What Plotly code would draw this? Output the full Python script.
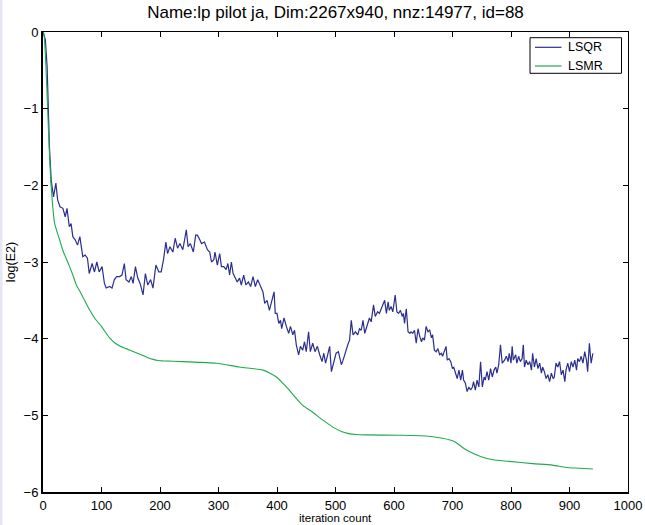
import plotly.graph_objects as go

title_text = "Name:lp pilot ja, Dim:2267x940, nnz:14977, id=88"
x_label = "iteration count"
y_label = "log(E2)"
series_names = ["LSQR", "LSMR"]
x_ticks = [0, 100, 200, 300, 400, 500, 600, 700, 800, 900, 1000]
y_ticks = [-6, -5, -4, -3, -2, -1, 0]

lsqr_iter = [0, 4, 7, 9, 11, 14, 18, 22, 25, 29, 34, 38, 41, 45, 48, 51, 55, 59, 63, 68,
             72, 76, 79, 84, 88, 92, 96, 101, 105, 108, 114, 118, 122, 126, 131, 135, 139, 142, 147, 151,
             154, 158, 162, 166, 171, 175, 179, 184, 188, 193, 198, 202, 206, 210, 213, 217, 222, 226, 230, 234,
             239, 245, 248, 252, 257, 261, 264, 268, 271, 276, 281, 285, 288, 292, 294, 298, 302, 305, 309, 313,
             316, 319, 322, 325, 329, 332, 336, 339, 343, 347, 351, 355, 359, 363, 367, 372, 376, 379, 383, 387,
             391, 395, 397, 400, 403, 406, 408, 412, 416, 420, 423, 427, 430, 433, 437, 440, 444, 447, 450, 454,
             457, 461, 465, 469, 473, 477, 480, 483, 486, 490, 493, 497, 501, 505, 510, 513, 517, 521, 524, 527,
             530, 534, 538, 541, 544, 547, 550, 553, 555, 558, 561, 565, 568, 572, 575, 578, 581, 584, 587, 590,
             592, 595, 598, 602, 605, 608, 611, 614, 616, 618, 621, 624, 627, 629, 632, 635, 638, 641, 644, 647,
             649, 652, 655, 658, 661, 664, 666, 669, 672, 675, 678, 681, 683, 686, 689, 691, 694, 697, 700, 702,
             705, 708, 711, 714, 717, 719, 722, 725, 728, 731, 734, 736, 739, 742, 745, 748, 751, 754, 756, 759,
             762, 765, 768, 771, 774, 776, 779, 782, 785, 789, 792, 795, 797, 800, 802, 804, 808, 810, 813, 816,
             819, 821, 823, 826, 829, 832, 835, 837, 840, 843, 846, 849, 852, 854, 857, 860, 863, 866, 869, 872,
             874, 877, 880, 883, 886, 889, 892, 894, 897, 900, 903, 906, 909, 912, 914, 917, 920, 923, 926, 929,
             931, 934, 937, 940]
lsqr_val = [0.0, -0.10, -0.45, -1.00, -1.50, -1.93, -2.15, -1.97, -2.19, -2.28, -2.30, -2.41, -2.30, -2.54, -2.50, -2.67, -2.71, -2.78, -2.67, -2.93,
            -2.91, -2.95, -3.15, -3.02, -3.13, -3.00, -3.13, -3.06, -3.28, -3.34, -3.32, -3.34, -3.23, -3.19, -3.19, -3.17, -3.02, -3.23, -3.26, -3.19,
            -3.28, -3.06, -3.21, -3.28, -3.43, -3.15, -3.30, -3.23, -3.34, -3.04, -3.13, -3.13, -2.97, -2.74, -2.89, -2.80, -2.87, -2.69, -2.82, -2.76,
            -2.84, -2.58, -2.80, -2.76, -2.87, -2.65, -2.65, -2.71, -2.76, -2.74, -2.84, -2.87, -3.00, -2.97, -2.87, -3.04, -2.89, -3.06, -3.06, -3.10,
            -3.02, -3.17, -3.00, -3.15, -3.21, -3.26, -3.21, -3.30, -3.17, -3.30, -3.26, -3.32, -3.19, -3.32, -3.23, -3.32, -3.39, -3.54, -3.50, -3.63,
            -3.52, -3.39, -3.67, -3.67, -3.80, -3.76, -3.87, -3.73, -3.84, -3.93, -3.84, -3.95, -3.89, -4.08, -4.21, -4.10, -4.15, -4.04, -4.17, -3.91,
            -4.17, -4.06, -4.17, -4.10, -4.21, -4.30, -4.19, -4.32, -4.23, -4.10, -4.43, -4.30, -4.19, -4.17, -4.34, -4.28, -4.17, -4.08, -4.02, -3.76,
            -3.95, -3.91, -3.95, -3.87, -3.89, -3.76, -3.93, -3.84, -3.80, -3.73, -3.78, -3.56, -3.71, -3.65, -3.67, -3.61, -3.54, -3.50, -3.67, -3.52,
            -3.63, -3.58, -3.65, -3.43, -3.65, -3.67, -3.63, -3.71, -3.67, -3.80, -3.61, -3.91, -3.93, -3.91, -3.93, -3.89, -4.06, -3.87, -3.97, -4.04,
            -3.99, -4.02, -3.84, -3.91, -3.89, -3.99, -3.95, -4.15, -4.17, -4.13, -4.21, -4.19, -4.23, -4.15, -4.10, -4.28, -4.26, -4.30, -4.39, -4.37,
            -4.45, -4.52, -4.41, -4.54, -4.41, -4.54, -4.58, -4.69, -4.63, -4.67, -4.63, -4.56, -4.67, -4.54, -4.63, -4.30, -4.63, -4.50, -4.54, -4.43,
            -4.54, -4.39, -4.50, -4.41, -4.37, -4.45, -4.34, -4.08, -4.32, -4.28, -4.23, -4.30, -4.19, -4.32, -4.10, -4.28, -4.21, -4.32, -4.23, -4.30,
            -4.26, -4.08, -4.37, -4.28, -4.34, -4.30, -4.41, -4.19, -4.37, -4.26, -4.39, -4.32, -4.45, -4.37, -4.43, -4.52, -4.47, -4.56, -4.45, -4.52,
            -4.50, -4.32, -4.37, -4.30, -4.47, -4.41, -4.56, -4.41, -4.32, -4.43, -4.30, -4.37, -4.28, -4.41, -4.26, -4.30, -4.23, -4.32, -4.17, -4.28,
            -4.43, -4.06, -4.32, -4.19]

lsmr_iter = [0, 1, 5, 8, 11, 14, 20, 28, 34, 45, 51, 57, 65, 80, 90, 100, 108, 115, 122, 132, 142,
             155, 168, 178, 188, 197, 205, 239, 296, 336, 376, 388, 399, 416, 433, 444, 461, 478, 497, 510, 521, 535, 552, 609, 655, 683,
             703, 723, 749, 769, 797, 837, 871, 894, 917, 940]
lsmr_val = [0.0, 0.0, -0.45, -1.02, -1.58, -2.02, -2.50, -2.70, -2.85, -3.05, -3.17, -3.30, -3.41, -3.63, -3.75, -3.84, -3.93, -4.00, -4.05, -4.10, -4.13,
            -4.17, -4.21, -4.245, -4.27, -4.285, -4.29, -4.30, -4.32, -4.37, -4.41, -4.45, -4.50, -4.63, -4.78, -4.87, -4.96, -5.06, -5.16, -5.21, -5.235, -5.25, -5.255, -5.26, -5.27, -5.30,
            -5.34, -5.45, -5.54, -5.58, -5.60, -5.63, -5.65, -5.68, -5.69, -5.70]

FONT = "Liberation Sans, Arial, Helvetica, sans-serif"
W, H = 645, 525
ML, MR, MT, MB = 43, 17, 32, 33
PW = W - ML - MR
PH = H - MT - MB

LSQR_COLOR = "#2b2e8e"
LSMR_COLOR = "#1faa4f"


def px_x(p):
    return (p - ML) / PW


def px_y(p):
    return 1 - (p - MT) / PH


fig = go.Figure()
fig.add_trace(go.Scatter(x=lsqr_iter, y=lsqr_val, mode="lines", name=series_names[0],
                         line=dict(color=LSQR_COLOR, width=1.2)))
fig.add_trace(go.Scatter(x=lsmr_iter, y=lsmr_val, mode="lines", name=series_names[1],
                         line=dict(color=LSMR_COLOR, width=1.1, shape="spline", smoothing=0.6)))
fig.add_trace(go.Scatter(x=[], y=[], xaxis="x2", yaxis="y2", showlegend=False, hoverinfo="skip"))

axis_common = dict(showgrid=False, zeroline=False, showline=True, linecolor="black",
                   ticks="inside", ticklen=5, tickcolor="black", tickwidth=1, automargin=False,
                   tickfont=dict(size=13, color="black", family=FONT))

# legend drawn as box + sample lines + text labels
leg_x0, leg_x1, leg_y0, leg_y1 = 530, 621.5, 37.7, 73.3
row_y = [47.3, 66.0]
colors = [LSQR_COLOR, LSMR_COLOR]
shapes = [dict(type="rect", xref="paper", yref="paper",
               x0=-ML / PW, x1=(2.5 - ML) / PW, y0=-MB / PH, y1=1 + MT / PH,
               fillcolor="#e6e6f6", line=dict(width=0), layer="below"),
          dict(type="rect", xref="paper", yref="paper",
               x0=px_x(leg_x0), x1=px_x(leg_x1), y0=px_y(leg_y1), y1=px_y(leg_y0),
               fillcolor="white", line=dict(color="black", width=1), layer="above")]
annotations = []
for name, ry, c in zip(series_names, row_y, colors):
    shapes.append(dict(type="line", xref="paper", yref="paper",
                       x0=px_x(535), x1=px_x(561.5), y0=px_y(ry), y1=px_y(ry),
                       line=dict(color=c, width=1.2), layer="above"))
    annotations.append(dict(text=name, xref="paper", yref="paper", x=px_x(566), y=px_y(ry),
                            xanchor="left", yanchor="middle", showarrow=False,
                            font=dict(size=12.5, family=FONT, color="black")))
# x-axis title as text placed below the tick labels
annotations.append(dict(text=x_label, xref="paper", yref="paper", x=0.5, y=px_y(524.5),
                        xanchor="center", yanchor="bottom", showarrow=False, borderpad=0,
                        font=dict(size=11.5, family=FONT, color="black")))

fig.update_layout(
    width=W, height=H,
    margin=dict(l=ML, r=MR, t=MT, b=MB, pad=0),
    paper_bgcolor="white", plot_bgcolor="white",
    font=dict(family=FONT, color="black"),
    title=dict(text=title_text, x=0.5, xref="paper", xanchor="center",
               y=1 - 12 / H, yref="container", yanchor="middle",
               font=dict(size=17, color="black", family=FONT)),
    xaxis=dict(range=[0, 1000], tickvals=x_ticks, linewidth=2, mirror=False,
               **axis_common),
    yaxis=dict(range=[-6, 0], tickvals=y_ticks, linewidth=2, mirror=False,
               title=dict(text=y_label, font=dict(size=12.5, family=FONT), standoff=5),
               **axis_common),
    xaxis2=dict(range=[0, 1000], tickvals=x_ticks, overlaying="x", side="top", anchor="y2",
                showticklabels=False, linewidth=1, **axis_common),
    yaxis2=dict(range=[-6, 0], tickvals=y_ticks, overlaying="y", side="right", anchor="x2",
                showticklabels=False, linewidth=1, **axis_common),
    shapes=shapes,
    annotations=annotations,
    showlegend=False,
)

fig.write_html("out.html")
